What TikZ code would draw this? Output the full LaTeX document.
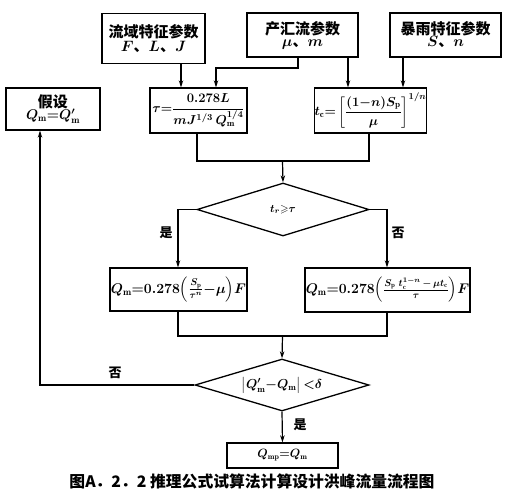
\RequirePackage{fix-cm}
\documentclass[tikz,border=0pt]{standalone}
\usepackage{amsmath,amssymb}
\usepackage{fontspec}
\newfontfamily\cjk{Noto Sans CJK SC}
\usetikzlibrary{shapes.geometric,arrows.meta,calc}
\tikzset{
  base/.style={draw, line width=1.3pt, inner sep=0pt, align=center, font=\cjk\bfseries\boldmath},
  box/.style={base, rectangle},
  dia/.style={base, diamond, aspect=3.2},
  conn/.style={line width=1.2pt},
  arr/.style={conn, -{Stealth[length=7pt,width=4.5pt]}},
  lab/.style={font=\cjk\bfseries\fontsize{13}{15}\selectfont, inner sep=0pt}
}
\begin{document}
\begin{tikzpicture}[x=1pt,y=-1pt]
\useasboundingbox (0,0) rectangle (509,490);
% top boxes
\node[box, minimum width=103pt, minimum height=50pt] (b1) at (153.5,38.5)
  {\fontsize{15}{17}\selectfont 流域特征参数\\[2pt]\fontsize{15}{17}\selectfont $F$、$L$、$J$};
\node[box, minimum width=111pt, minimum height=44pt] (b2) at (302.5,35)
  {\fontsize{15}{17}\selectfont 产汇流参数\\[0pt]\fontsize{15}{17}\selectfont $\mu$、$m$};
\node[box, minimum width=111pt, minimum height=44pt] (b3) at (445.5,35)
  {\fontsize{15}{17}\selectfont 暴雨特征参数\\[0pt]\fontsize{15}{17}\selectfont $S$、$n$};
% second row
\node[box, minimum width=94pt, minimum height=42pt] (ass) at (53,109)
  {\fontsize{15}{17}\selectfont 假设\\[-1pt]\fontsize{14}{16}\selectfont $Q_{\mathrm m}{=}Q'_{\mathrm m}$};
\node[box, minimum width=97pt, minimum height=45pt] (tau) at (198.5,110.5)
  {\fontsize{13}{15}\selectfont $\tau{=}\dfrac{0.278L}{mJ^{1/3}\,Q_{\mathrm m}^{1/4}}$};
\node[box, minimum width=105pt, minimum height=45pt] (tc) at (370.5,110.5)
  {\fontsize{13}{15}\selectfont $t_{\mathrm c}{=}\left[\dfrac{(1{-}n)S_{\mathrm p}}{\mu}\right]^{1/n}$};
% decision 1
\node[dia, minimum width=172pt, minimum height=53pt] (d1) at (283,209.5)
  {\fontsize{11}{13}\selectfont $t_r{\geqslant}\tau$};
% third row
\node[box, minimum width=137pt, minimum height=43pt] (qL) at (178.5,289.5)
  {\fontsize{14}{16}\selectfont $Q_{\mathrm m}{=}0.278\!\left(\frac{S_{\mathrm p}}{\tau^{n}}{-}\mu\right)\!F$};
\node[box, minimum width=165pt, minimum height=44pt] (qR) at (387.5,290)
  {\fontsize{14}{16}\selectfont $Q_{\mathrm m}{=}0.278\!\left(\frac{S_{\mathrm p}\;t_{\mathrm c}^{1-n}\,-\,\mu t_{\mathrm c}}{\tau}\right)\!F$};
% decision 2
\node[dia, minimum width=174pt, minimum height=52pt] (d2) at (282,385)
  {\fontsize{13}{15}\selectfont $\left|Q'_{\mathrm m}{-}Q_{\mathrm m}\right|{<}\delta$};
% result
\node[box, minimum width=111pt, minimum height=25pt] (qp) at (282.5,455.5)
  {\fontsize{12}{14}\selectfont $Q_{\mathrm{mp}}{=}Q_{\mathrm m}$};
% caption
\node[font=\cjk\bfseries\fontsize{15.8}{19}\selectfont, inner sep=0pt] (cap) at (252,481)
  {图A．2．2 推理公式试算法计算设计洪峰流量流程图};
% column coordinates
\coordinate (x1) at (181,0);
\coordinate (x2) at (298,0);
\coordinate (x3) at (216,0);
\coordinate (x4) at (348,0);
\coordinate (x5) at (403,0);
\coordinate (xt) at (197,0);
\coordinate (xc) at (369,0);
\coordinate (xm) at (282.5,0);
\coordinate (xl) at (178,0);
\coordinate (xr) at (387,0);
\coordinate (xa) at (40,0);
\coordinate (j1) at (0,161);
\coordinate (j2) at (0,68);
\coordinate (j3) at (0,336);
% connectors top
\draw[arr] (b1.south -| x1) -- (tau.north -| x1);
\draw[arr] (b2.south -| x2) |- (j2 -| x3) -- (tau.north -| x3);
\draw[arr] (b2.south -| x4) -- (tc.north -| x4);
\draw[arr] (b3.south -| x5) -- (tc.north -| x5);
% merge to decision 1
\draw[conn] (tau.south -| xt) |- (j1 -| xc) -- (tc.south -| xc);
\draw[arr] (j1 -| xm) -- (d1.north);
% branches
\draw[arr] (d1.west) -| (qL.north -| xl);
\draw[arr] (d1.east) -| (qR.north -| xr);
\node[lab] (yes1) at (166,233) {是};
\node[lab] (no1) at (398,233) {否};
% merge to decision 2
\draw[conn] (qL.south -| xl) |- (j3 -| xr) -- (qR.south -| xr);
\draw[arr] (j3 -| xm) -- (d2.north);
% loop back
\draw[arr] (d2.west) -| (ass.south -| xa);
\node[lab] (no2) at (115,373) {否};
% result
\draw[arr] (d2.south) -- (qp.north);
\node[lab] (yes2) at (300,425) {是};
\end{tikzpicture}
\end{document}
